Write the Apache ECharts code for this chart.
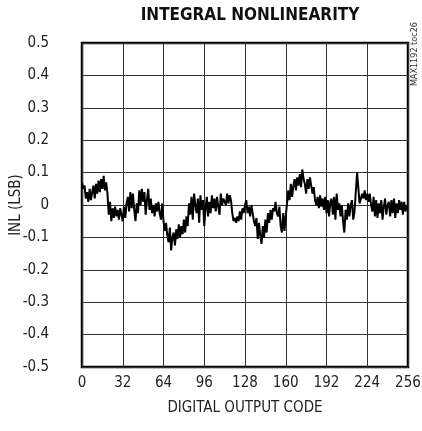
<!DOCTYPE html>
<html>
<head>
<meta charset="utf-8">
<script src="https://cdn.jsdelivr.net/npm/echarts@6/dist/echarts.min.js"></script>
<style>
  html, body { margin: 0; padding: 0; background: #fff; }
  #chart { width: 422px; height: 431px; }
</style>
</head>
<body>
<div id="chart"></div>
<script>
// INL per output code (LSB), codes 0..255
const inlValues = [
  0.07, 0.05, 0.06, 0.02, 0.04, 0.01, 0.05, 0.015, 0.04, 0.06, 0.02, 0.065, 0.035, 0.075, 0.04, 0.08,
  0.05, 0.09, 0.045, 0.07, 0.035, -0.03, 0.01, -0.05, -0.01, -0.04, -0.005, -0.035, -0.015, -0.045, -0.01, -0.03,
  -0.05, -0.005, -0.04, 0.005, 0.025, -0.02, 0.04, -0.01, 0.035, -0.015, -0.05, 0.005, -0.025, 0.045, 0.0, 0.05,
  0.01, 0.04, -0.03, 0.015, 0.05, -0.015, 0.02, -0.025, 0.0, -0.035, 0.005, -0.02, 0.01, -0.025, -0.045, 0.005,
  -0.05, -0.08, -0.055, -0.095, -0.115, -0.07, -0.14, -0.1, -0.085, -0.125, -0.075, -0.105, -0.06, -0.1, -0.065, -0.09,
  -0.045, -0.085, -0.035, -0.065, 0.005, -0.03, 0.025, -0.045, 0.035, 0.0, -0.025, 0.02, -0.055, 0.03, -0.015, 0.015,
  -0.065, -0.01, 0.025, -0.035, 0.01, -0.025, 0.03, -0.01, 0.02, -0.02, 0.025, -0.005, -0.03, 0.035, 0.0, 0.02,
  0.025, 0.0, 0.035, 0.005, 0.03, 0.015, -0.025, -0.05, -0.04, -0.055, -0.035, -0.05, -0.02, -0.045, -0.01, -0.025,
  0.0, 0.015, -0.025, -0.005, -0.035, 0.0, -0.025, -0.05, -0.065, -0.04, -0.105, -0.055, -0.095, -0.12, -0.065, -0.1,
  -0.045, -0.085, -0.025, -0.055, -0.015, -0.045, -0.01, -0.02, 0.01, -0.025, -0.035, -0.005, -0.065, -0.085, -0.025, -0.08,
  -0.035, 0.005, 0.045, 0.015, 0.065, 0.025, 0.06, 0.08, 0.045, 0.085, 0.06, 0.095, 0.055, 0.11, 0.08, 0.065,
  0.035, 0.08, 0.05, 0.085, 0.06, 0.035, 0.055, 0.015, 0.0, 0.025, -0.01, 0.03, -0.005, 0.02, -0.015, 0.025,
  -0.025, 0.015, -0.035, 0.01, 0.02, -0.03, 0.025, -0.045, 0.035, -0.015, 0.005, -0.035, 0.0, -0.05, -0.085, -0.015,
  -0.045, 0.005, -0.035, 0.0, 0.015, -0.045, -0.02, 0.04, 0.1, 0.095, 0.005, 0.0, 0.035, 0.02, 0.045, 0.015,
  0.035, 0.01, 0.035, 0.0, -0.02, 0.025, -0.035, 0.015, -0.04, 0.005, -0.025, 0.015, -0.045, -0.005, 0.02, -0.03,
  0.0, 0.01, -0.035, 0.015, -0.025, 0.02, -0.04, 0.005, -0.025, 0.015, -0.015, 0.01, -0.03, 0.01, -0.02, 0.0
];

const xTicks = [0, 32, 64, 96, 128, 160, 192, 224, 256];
const yTicks = [-0.5, -0.4, -0.3, -0.2, -0.1, 0, 0.1, 0.2, 0.3, 0.4, 0.5];

const titleText = 'INTEGRAL NONLINEARITY';
const xName = 'DIGITAL OUTPUT CODE';
const yName = 'INL (LSB)';
const sideNote = 'MAX1192 toc26';

const FONT = '"DejaVu Sans Condensed", "Liberation Sans Narrow", "Liberation Sans", Arial, sans-serif';

const points = inlValues.map((v, i) => [i, v]);

const chart = echarts.init(document.getElementById('chart'), null, { renderer: 'canvas' });

chart.setOption({
  animation: false,
  backgroundColor: '#fff',
  title: {
    text: titleText,
    left: 245,
    textAlign: 'center',
    top: 2,
    textStyle: { fontFamily: FONT, fontWeight: 'bold', fontSize: 17, color: '#111' }
  },
  grid: {
    left: 82, right: 14, top: 43, bottom: 64,
    outerBoundsMode: 'none', containLabel: false,
    show: true, borderColor: '#000', borderWidth: 2.5, backgroundColor: 'transparent'
  },
  xAxis: {
    type: 'value',
    min: 0, max: 256, interval: 32,
    name: xName,
    nameLocation: 'middle',
    nameGap: 34,
    nameMoveOverlap: false,
    nameTextStyle: { fontFamily: FONT, fontSize: 15, color: '#222' },
    axisLine: { show: false },
    axisTick: { show: false },
    axisLabel: { fontFamily: FONT, fontSize: 15, color: '#222', margin: 9,
      formatter: v => xTicks.includes(v) ? String(v) : '' },
    splitLine: { show: true, lineStyle: { color: '#333', width: 1 } }
  },
  yAxis: {
    type: 'value',
    min: -0.5, max: 0.5, interval: 0.1,
    name: yName,
    nameLocation: 'middle',
    nameGap: 58,
    nameMoveOverlap: false,
    nameRotate: 90,
    nameTextStyle: { fontFamily: FONT, fontSize: 15, color: '#222' },
    axisLine: { show: false },
    axisTick: { show: false },
    axisLabel: { fontFamily: FONT, fontSize: 15, color: '#222', margin: 33,
      formatter: v => {
        const r = Math.round(v * 10) / 10;
        const t = yTicks.find(k => Math.abs(k - r) < 1e-9);
        if (t === undefined) return '';
        return t === 0 ? '0' : String(t);
      } },
    splitLine: { show: true, lineStyle: { color: '#333', width: 1 } }
  },
  graphic: [{
    type: 'text',
    left: 410,
    top: 22,
    rotation: Math.PI / 2,
    style: { text: sideNote, fontFamily: FONT, fontSize: 9, fill: '#333' }
  }],
  series: [{
    type: 'line',
    data: points,
    showSymbol: false,
    lineStyle: { color: '#000', width: 2 },
    z: 3
  }]
});
</script>
</body>
</html>
